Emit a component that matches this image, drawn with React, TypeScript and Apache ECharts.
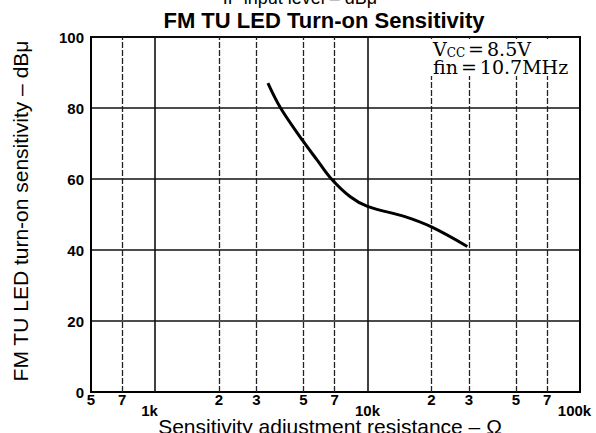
import React, { useEffect, useRef } from 'react';
import * as echarts from 'echarts';

// Curve: LED turn-on sensitivity vs adjustment resistance
const resistanceOhm = [3400, 3900, 5000, 5800, 6700, 8300, 10000, 15000, 20000, 29500];
const sensitivityDb = [87, 80, 70.5, 65.3, 60.3, 55, 52.3, 49.4, 46.5, 41];

// X axis (log) ticks and labels
const xTickValues = [500, 700, 1000, 2000, 3000, 5000, 7000, 10000, 20000, 30000, 50000, 70000, 100000];
const xTickLabels = ['5', '7', '1k', '2', '3', '5', '7', '10k', '2', '3', '5', '7', '100k'];
const majorGridX = [1000, 10000];
const minorGridX = [700, 2000, 3000, 5000, 7000, 20000, 30000, 50000, 70000];

// Y axis
const yMin = 0;
const yMax = 100;
const yInterval = 20;

const titleText = 'FM TU LED Turn-on Sensitivity';
const topCutText = 'IF input level – dBμ';
const yTitle = 'FM TU LED turn-on sensitivity – dBμ';
const xTitle = 'Sensitivity adjustment resistance – Ω';

export default function App() {
  const ref = useRef<HTMLDivElement>(null);

  useEffect(() => {
    document.body.style.margin = '0';
    const chart = echarts.init(ref.current!, null, { renderer: 'svg' });
    const sans = 'Liberation Sans, Arial, sans-serif';
    const serif = 'DejaVu Serif, serif';

    const gridLines = [
      ...majorGridX.map((v) => ({ xAxis: v, lineStyle: { type: 'solid', width: 1.6, color: '#111' } })),
      ...minorGridX.map((v) => ({ xAxis: v, lineStyle: { type: [6, 2], width: 1.3, color: '#222' } })),
    ];

    const kStyle = { fontSize: 15, fontWeight: 'bold', fontFamily: sans, color: '#000' };

    chart.setOption({
      animation: false,
      backgroundColor: '#fff',
      grid: {
        left: 91,
        right: 16,
        top: 37,
        bottom: 41,
        show: true,
        borderColor: '#000',
        borderWidth: 2,
        backgroundColor: 'transparent',
      },
      xAxis: {
        type: 'log',
        logBase: 10,
        min: 500,
        max: 100000,
        axisLine: { show: true, lineStyle: { color: '#000', width: 2 } },
        axisTick: { show: false },
        splitLine: { show: false },
        minorTick: { show: false },
        axisLabel: {
          customValues: xTickValues,
          margin: 0,
          color: '#000',
          fontFamily: sans,
          fontWeight: 'bold',
          fontSize: 15,
          formatter: (val: number) => {
            const i = xTickValues.findIndex((t) => Math.abs(t - val) / t < 1e-6);
            const s = i >= 0 ? xTickLabels[i] : '';
            if (s.endsWith('k')) {
              if (s === '10k') return '{k0|' + s + '}';
              return '{k|' + s + '}';
            }
            return '{d|' + s + '}';
          },
          rich: {
            d: { ...kStyle },
            k: { ...kStyle, padding: [11, 11, 0, 0] },
            k0: { ...kStyle, padding: [11, 0, 0, 0] },
          },
        },
      },
      yAxis: {
        type: 'value',
        min: yMin,
        max: yMax,
        interval: yInterval,
        axisLine: { show: true, lineStyle: { color: '#000', width: 2 } },
        axisTick: { show: false },
        splitLine: { show: true, lineStyle: { color: '#111', width: 1.6 } },
        axisLabel: {
          margin: 7,
          color: '#000',
          fontFamily: sans,
          fontWeight: 'bold',
          fontSize: 15,
        },
      },
      series: [
        {
          type: 'line',
          data: resistanceOhm.map((x, i) => [x, sensitivityDb[i]]),
          smooth: 0.35,
          showSymbol: false,
          symbol: 'none',
          lineStyle: { color: '#000', width: 3 },
          z: 5,
          markLine: {
            silent: true,
            symbol: 'none',
            label: { show: false },
            data: gridLines,
            z: 3,
          },
        },
      ],
      graphic: [
        {
          type: 'text',
          x: 300,
          y: -2,
          style: {
            text: topCutText,
            font: '18px ' + sans,
            fill: '#000',
            align: 'center',
            verticalAlign: 'middle',
          },
        },
        {
          type: 'text',
          x: 324,
          y: 20,
          style: {
            text: titleText,
            font: 'bold 22px ' + sans,
            fill: '#000',
            align: 'center',
            verticalAlign: 'middle',
          },
        },
        {
          type: 'text',
          x: 20,
          y: 211,
          rotation: Math.PI / 2,
          style: {
            text: yTitle,
            font: '21px ' + sans,
            fill: '#000',
            align: 'center',
            verticalAlign: 'middle',
          },
        },
        {
          type: 'text',
          x: 330,
          y: 426,
          style: {
            text: xTitle,
            font: '21px ' + sans,
            fill: '#000',
            align: 'center',
            verticalAlign: 'middle',
          },
        },
        {
          type: 'rect',
          z: 100,
          shape: { x: 428, y: 39, width: 150, height: 37 },
          style: { fill: '#fff' },
        },
        {
          type: 'text',
          z: 101,
          x: 433,
          y: 49,
          style: {
            text: 'V{s|CC}{e|=}8.5V',
            font: '19px ' + serif,
            fill: '#000',
            align: 'left',
            verticalAlign: 'middle',
            rich: {
              s: { fontSize: 12, fontFamily: serif, padding: [7, 0, 0, 0], fill: '#000' },
              e: { fontSize: 19, fontFamily: serif, padding: [0, 3, 0, 3], fill: '#000' },
            },
          },
        },
        {
          type: 'text',
          z: 101,
          x: 433,
          y: 67,
          style: {
            text: 'fin{e|=}10.7MHz',
            font: '19px ' + serif,
            fill: '#000',
            align: 'left',
            verticalAlign: 'middle',
            rich: {
              e: { fontSize: 19, fontFamily: serif, padding: [0, 3, 0, 3], fill: '#000' },
            },
          },
        },
      ],
    });

    return () => chart.dispose();
  }, []);

  return <div ref={ref} style={{ position: 'absolute', left: 0, top: 0, width: 596, height: 433 }} />;
}
